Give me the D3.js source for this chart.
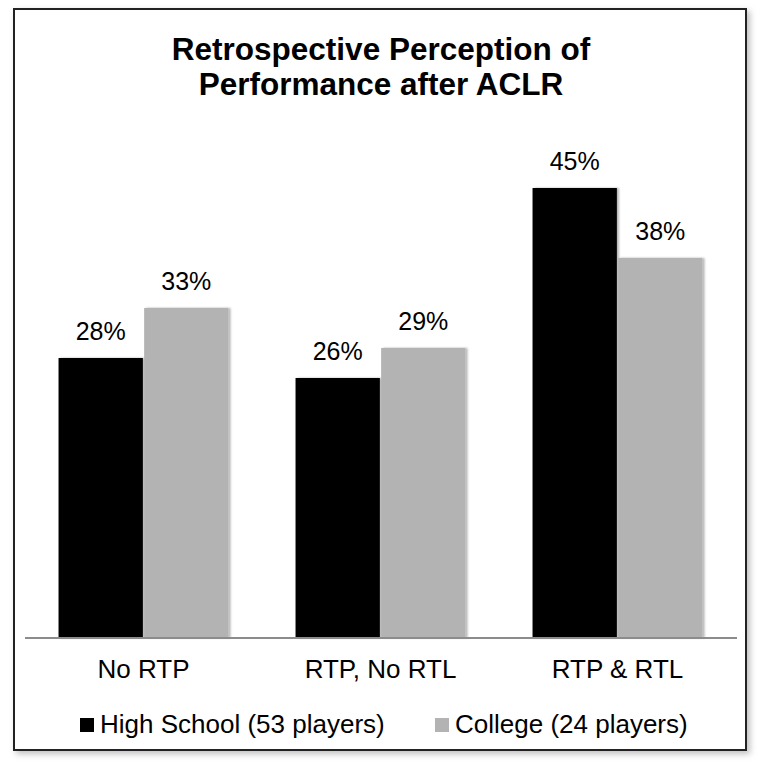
<!DOCTYPE html>
<html>
<head>
<meta charset="utf-8">
<script src="https://cdn.jsdelivr.net/npm/d3@7"></script>
<style>
  body { margin: 0; background: #fff; }
  text { font-family: "Liberation Sans", Arial, sans-serif; fill: #000; }
</style>
</head>
<body>
<svg id="svg1" width="762" height="773"></svg>
<script>
// chart data
var categories = ["No RTP", "RTP, No RTL", "RTP & RTL"];
var seriesNames = ["High School (53 players)", "College (24 players)"];
var highSchool = [0.28, 0.26, 0.45];
var college = [0.33, 0.29, 0.38];
var colors = ["#000000", "#b3b3b3"];

var svg1 = d3.select("#svg1");
var width = 762, height = 773;

var defs = svg1.append("defs");
var f = defs.append("filter").attr("id", "boxShadow")
  .attr("x", "-5%").attr("y", "-5%").attr("width", "110%").attr("height", "110%");
f.append("feDropShadow").attr("dx", 3).attr("dy", 3).attr("stdDeviation", 3)
  .attr("flood-color", "#000").attr("flood-opacity", 0.25);
var fb = defs.append("filter").attr("id", "barShadow")
  .attr("x", "-10%").attr("y", "-5%").attr("width", "130%").attr("height", "110%");
fb.append("feDropShadow").attr("dx", 2).attr("dy", 0).attr("stdDeviation", 1.2)
  .attr("flood-color", "#000").attr("flood-opacity", 0.3);

// outer frame
svg1.append("rect")
  .attr("x", 14).attr("y", 9)
  .attr("width", 732).attr("height", 741)
  .attr("fill", "#fff")
  .attr("stroke", "#222")
  .attr("stroke-width", 2)
  .attr("filter", "url(#boxShadow)");

// title
var title = svg1.append("text")
  .attr("text-anchor", "middle")
  .style("font-size", "31.5px")
  .style("font-weight", "bold");
title.append("tspan").attr("x", 381).attr("y", 60).text("Retrospective Perception of");
title.append("tspan").attr("x", 381).attr("y", 95).text("Performance after ACLR");

var x0 = d3.scaleBand()
  .domain(categories)
  .range([25, 736])
  .paddingInner(0.283)
  .paddingOuter(0.1415);

var x1 = d3.scaleBand()
  .domain([0, 1])
  .range([0, x0.bandwidth()])
  .paddingInner(0.015);

var y = d3.scaleLinear()
  .domain([0, 0.5])
  .range([638, 138]);

var rows = categories.map(function(c, i) {
  return { cat: c, vals: [highSchool[i], college[i]] };
});

var g = svg1.append("g");
var groups = g.selectAll("g.grp")
  .data(rows)
  .enter()
  .append("g")
  .attr("class", "grp")
  .attr("transform", function(d) { return "translate(" + x0(d.cat) + ",0)"; });

groups.selectAll("rect")
  .data(function(d) { return d.vals; })
  .enter()
  .append("rect")
  .attr("x", function(d, i) { return x1(i); })
  .attr("y", function(d) { return y(d); })
  .attr("width", x1.bandwidth())
  .attr("height", function(d) { return y(0) - y(d); })
  .attr("fill", function(d, i) { return colors[i]; })
  .attr("filter", "url(#barShadow)");

groups.selectAll("text")
  .data(function(d) { return d.vals; })
  .enter()
  .append("text")
  .attr("x", function(d, i) { return x1(i) + x1.bandwidth() / 2; })
  .attr("y", function(d) { return y(d) - 18; })
  .attr("text-anchor", "middle")
  .style("font-size", "25px")
  .text(function(d) { return Math.round(d * 100) + "%"; });

// x axis
var xAxis = d3.axisBottom(x0).tickSize(0).tickPadding(0);
var ax = svg1.append("g")
  .attr("transform", "translate(0," + y(0) + ")")
  .call(xAxis);
ax.select(".domain").attr("stroke", "#8c8c8c").attr("stroke-width", 2)
  .attr("d", "M25,0H737");
ax.selectAll(".tick text")
  .attr("dy", null)
  .attr("y", 40)
  .style("font-size", "26px")
  .style("font-family", "'Liberation Sans', Arial, sans-serif")
  .attr("fill", "#000");

// legend
var legendX = [80, 435];
var leg = svg1.append("g");
var items = leg.selectAll("g")
  .data(seriesNames)
  .enter()
  .append("g")
  .attr("transform", function(d, i) { return "translate(" + legendX[i] + ",718)"; });
items.append("rect")
  .attr("width", 14).attr("height", 14)
  .attr("fill", function(d, i) { return colors[i]; });
items.append("text")
  .attr("x", 20).attr("y", 15)
  .style("font-size", "26px")
  .text(function(d) { return d; });
</script>
</body>
</html>
